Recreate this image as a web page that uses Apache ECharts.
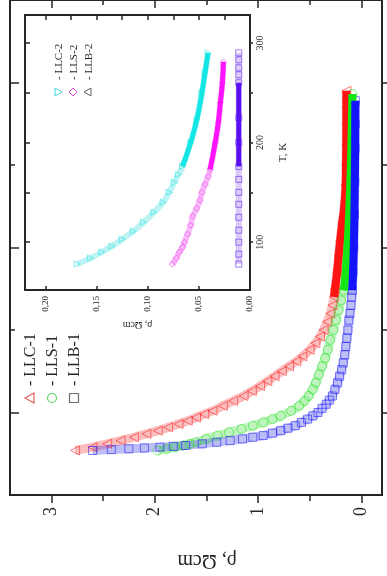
<!DOCTYPE html>
<html>
<head>
<meta charset="utf-8">
<script src="https://cdn.jsdelivr.net/npm/echarts@6/dist/echarts.min.js"></script>
<style>html,body{margin:0;padding:0;background:#fff}#chart{width:387px;height:576px}</style>
</head>
<body>
<div id="chart"></div>
<script>
// figure is drawn turned a quarter turn: rho runs horizontally (inverse), T runs up
const INK = '#262626';
const SERIF = '"Liberation Serif", "DejaVu Serif", serif';

// main plot, T in K and rho in Ohm*cm
const T_LLC1 = [77, 79, 81, 83, 85, 87, 89, 91, 93, 95, 97, 99, 101, 104, 107, 110, 113, 116, 119, 122, 125, 128, 131, 134, 138, 142, 146, 150, 155, 160, 165, 170, 175, 185, 195, 204, 215, 225, 238, 250, 262, 275, 285, 295];
const RHO_LLC1 = [2.77, 2.60, 2.46, 2.33, 2.20, 2.08, 1.97, 1.87, 1.77, 1.68, 1.60, 1.52, 1.44, 1.34, 1.24, 1.14, 1.06, 0.98, 0.91, 0.84, 0.77, 0.70, 0.63, 0.57, 0.50, 0.445, 0.40, 0.365, 0.33, 0.30, 0.28, 0.265, 0.255, 0.235, 0.22, 0.205, 0.185, 0.165, 0.152, 0.148, 0.146, 0.145, 0.145, 0.145];
const T_LLS1 = [77, 78, 79, 80, 81, 82, 84, 86, 88, 90, 92, 94, 96, 98, 101, 104, 107, 110, 114, 118, 123, 128, 133, 138, 144, 150, 156, 162, 168, 174, 182, 190, 205, 220, 240, 260, 278, 293];
const RHO_LLS1 = [1.97, 1.88, 1.80, 1.72, 1.66, 1.60, 1.50, 1.39, 1.28, 1.16, 1.05, 0.95, 0.86, 0.78, 0.68, 0.60, 0.55, 0.51, 0.47, 0.44, 0.41, 0.38, 0.35, 0.325, 0.30, 0.27, 0.245, 0.22, 0.195, 0.17, 0.155, 0.145, 0.13, 0.118, 0.106, 0.097, 0.091, 0.087];
const T_LLB1 = [77, 77.5, 78, 78.5, 79, 79.5, 80, 81, 82, 83, 84, 85, 86, 87.5, 89, 90.5, 92, 94, 96, 98, 100, 102.5, 105, 107.5, 110, 114, 118, 122, 126, 130, 135, 140, 145, 150, 156, 160, 165, 170, 174, 185, 200, 220, 240, 260, 275, 289];
const RHO_LLB1 = [2.60, 2.42, 2.25, 2.10, 1.95, 1.82, 1.70, 1.54, 1.40, 1.27, 1.15, 1.05, 0.95, 0.86, 0.78, 0.71, 0.64, 0.58, 0.52, 0.47, 0.42, 0.38, 0.34, 0.31, 0.28, 0.255, 0.23, 0.21, 0.19, 0.175, 0.16, 0.15, 0.14, 0.13, 0.12, 0.11, 0.10, 0.093, 0.087, 0.08, 0.073, 0.067, 0.063, 0.06, 0.059, 0.058];

// inset
const T_LLC2 = [78, 84, 90, 96, 103, 111, 120, 130, 140, 150, 160, 168, 176, 200, 223, 250, 270, 290];
const RHO_LLC2 = [0.169, 0.156, 0.145, 0.135, 0.125, 0.114, 0.104, 0.094, 0.085, 0.079, 0.074, 0.070, 0.066, 0.058, 0.052, 0.047, 0.044, 0.041];
const T_LLS2 = [78, 84, 90, 95, 100, 108, 117, 126, 134, 142, 150, 158, 166, 173, 200, 220, 240, 260, 281];
const RHO_LLS2 = [0.076, 0.072, 0.069, 0.066, 0.064, 0.061, 0.058, 0.056, 0.052, 0.049, 0.047, 0.044, 0.041, 0.039, 0.034, 0.031, 0.029, 0.027, 0.026];
const T_LLB2 = [78, 88, 100, 112, 125, 138, 150, 163, 176, 200, 225, 260, 268, 275, 283, 290];
const RHO_LLB2 = [0.011, 0.011, 0.011, 0.011, 0.011, 0.011, 0.011, 0.011, 0.011, 0.011, 0.011, 0.011, 0.011, 0.011, 0.011, 0.011];

// ticks and labels
const RHO_TICKS = [0, 1, 2, 3];
const RHO_MINOR = [0.5, 1.5, 2.5];
const T_TICKS = [100, 150, 200, 250, 300];
const T_MAJOR = [100, 200, 300];
const T_MINOR = [150, 250];
const INSET_RHO_TICKS = [0, 0.05, 0.1, 0.15, 0.2];
const INSET_RHO_MINOR = [0, 0.025, 0.05, 0.075, 0.1, 0.125, 0.15, 0.175, 0.2];

const NAMES = ['- LLC-1', '- LLS-1', '- LLB-1', '- LLC-2', '- LLS-2', '- LLB-2'];

function axis(grid, pos, min, max, ticks, len, inside, extra) {
  return Object.assign({
    type: 'value', gridIndex: grid, position: pos, min: min, max: max,
    splitLine: { show: false },
    axisLine: { show: true, onZero: false, lineStyle: { color: INK, width: 2 } },
    axisTick: ticks ? { show: true, inside: inside, length: len, customValues: ticks, lineStyle: { color: INK, width: 1.5 } } : { show: false },
    axisLabel: { show: false }
  }, extra || {});
}

function curve(xi, yi, T, R, color, light, symbol, rot, size, width, from, to) {
  const data = T.map((t, i) => [R[i], t]);
  const dense = data.filter(d => d[1] >= from && d[1] <= to);
  return [{
    type: 'line', xAxisIndex: xi, yAxisIndex: yi, data: data, smooth: true,
    symbol: symbol, symbolSize: size, symbolRotate: rot,
    itemStyle: { color: 'rgba(0,0,0,0)', borderColor: color, borderWidth: 1, opacity: 0.55 },
    lineStyle: { color: light, width: width }, z: 2
  }, {
    type: 'line', xAxisIndex: xi, yAxisIndex: yi, data: dense, smooth: true,
    symbol: 'none', lineStyle: { color: color, width: width - 1 }, z: 3
  }];
}

const chart = echarts.init(document.getElementById('chart'));

const xAxis = [
  axis(0, 'bottom', -0.2, 3.4, RHO_TICKS, 8, false, {
    inverse: true,
    axisLabel: { show: true, customValues: RHO_TICKS, rotate: 90, margin: 12, color: INK, fontSize: 18, fontFamily: SERIF },
    name: 'ρ, Ωcm', nameLocation: 'middle', nameRotate: 180, nameGap: 55,
    nameTextStyle: { color: INK, fontSize: 20, fontFamily: SERIF, padding: [0, 22, 0, 0] }
  }),
  axis(0, 'bottom', -0.2, 3.4, RHO_MINOR, 6, false, { inverse: true }),
  axis(0, 'top', -0.2, 3.4, RHO_TICKS, 8, true, { inverse: true }),
  axis(0, 'top', -0.2, 3.4, RHO_MINOR, 5, true, { inverse: true }),
  axis(1, 'bottom', 0, 0.22, INSET_RHO_TICKS, 4, true, {
    inverse: true,
    axisLabel: { show: true, customValues: INSET_RHO_TICKS, rotate: 90, margin: 6, color: INK, fontSize: 9, fontFamily: SERIF,
      formatter: v => v.toFixed(2).replace('.', ',') },
    name: 'ρ, Ωcm', nameLocation: 'middle', nameRotate: 180, nameGap: 30,
    nameTextStyle: { color: INK, fontSize: 10, fontFamily: SERIF }
  }),
  axis(1, 'top', 0, 0.22, INSET_RHO_MINOR, 5, true, { inverse: true })
];

const yAxis = [
  axis(0, 'right', 50, 350, T_TICKS, 5, false),
  axis(0, 'left', 50, 350, T_MAJOR, 9, true),
  axis(0, 'left', 50, 350, T_MINOR, 5, true),
  axis(1, 'right', 52, 328, T_TICKS, 3, false, {
    axisLabel: { show: true, customValues: T_MAJOR, rotate: 90, margin: 5, color: INK, fontSize: 10, fontFamily: SERIF },
    name: 'T, K', nameLocation: 'middle', nameGap: 28,
    nameTextStyle: { color: INK, fontSize: 11, fontFamily: SERIF }
  }),
  axis(1, 'left', 52, 328, T_TICKS, 5, true)
];

const series = [].concat(
  curve(0, 0, T_LLC1, RHO_LLC1, '#ff1414', 'rgba(240,70,70,0.35)', 'triangle', 90, 9, 9, 170, 400),
  curve(0, 0, T_LLS1, RHO_LLS1, '#14e614', 'rgba(70,220,70,0.35)', 'circle', 0, 9, 9, 172, 400),
  curve(0, 0, T_LLB1, RHO_LLB1, '#1414ff', 'rgba(70,70,230,0.35)', 'rect', 0, 8, 9, 172, 400),
  curve(4, 3, T_LLC2, RHO_LLC2, '#14e6e6', 'rgba(70,220,220,0.35)', 'triangle', -90, 6, 6, 176, 400),
  curve(4, 3, T_LLS2, RHO_LLS2, '#ff14ff', 'rgba(230,70,230,0.35)', 'diamond', 0, 6, 6, 173, 400),
  curve(4, 3, T_LLB2, RHO_LLB2, '#5a10f0', 'rgba(150,110,235,0.35)', 'rect', 0, 6, 6, 176, 260)
);

function legendItem(x, y, name, marker, size) {
  return [Object.assign({ x: x, y: y + 12 }, marker), {
    type: 'text', x: x + 1, y: y, rotation: Math.PI / 2,
    style: { text: name, fill: INK, font: size + 'px ' + SERIF, align: 'left', textAlign: 'left', verticalAlign: 'middle', textVerticalAlign: 'middle' }
  }];
}

const graphic = [].concat(
  legendItem(30, 386, NAMES[0], { type: 'polygon', shape: { points: [[-5, 0], [4, -5], [4, 5]] }, style: { fill: 'none', stroke: '#e06060', lineWidth: 1.2 } }, 16),
  legendItem(52, 386, NAMES[1], { type: 'circle', shape: { cx: 0, cy: 0, r: 4.5 }, style: { fill: 'none', stroke: '#60d060', lineWidth: 1.2 } }, 16),
  legendItem(74, 386, NAMES[2], { type: 'rect', shape: { x: -4.5, y: -4.5, width: 9, height: 9 }, style: { fill: 'none', stroke: '#707070', lineWidth: 1.2 } }, 16),
  legendItem(58, 80, NAMES[3], { type: 'polygon', shape: { points: [[4, 0], [-3, -4], [-3, 4]] }, style: { fill: 'none', stroke: '#40d8d8', lineWidth: 1 } }, 11),
  legendItem(73, 80, NAMES[4], { type: 'polygon', shape: { points: [[0, -4], [4, 0], [0, 4], [-4, 0]] }, style: { fill: 'none', stroke: '#e050e0', lineWidth: 1 } }, 11),
  legendItem(88, 80, NAMES[5], { type: 'polygon', shape: { points: [[-4, 0], [3, -4], [3, 4]] }, style: { fill: 'none', stroke: '#606060', lineWidth: 1 } }, 11)
);

chart.setOption({
  animation: false,
  backgroundColor: '#fff',
  grid: [
    { left: 10, top: -3, width: 372, height: 498 },
    { left: 25, top: 15, width: 225, height: 275 }
  ],
  xAxis: xAxis,
  yAxis: yAxis,
  series: series,
  graphic: graphic
});
</script>
</body>
</html>
